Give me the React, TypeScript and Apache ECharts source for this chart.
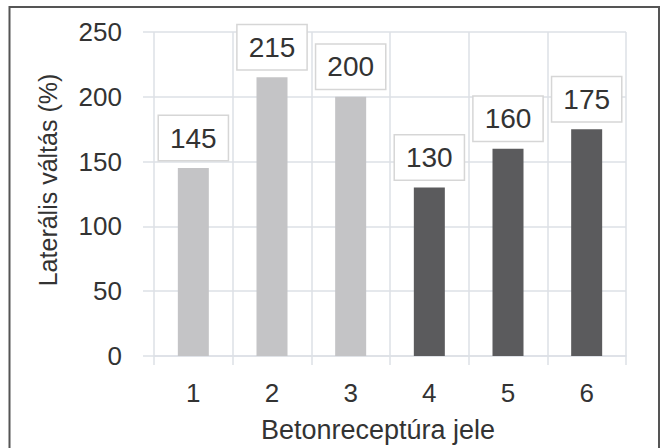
import React, { useEffect, useRef } from "react";
import * as echarts from "echarts";

const categories = ["1", "2", "3", "4", "5", "6"];
const values = [145, 215, 200, 130, 160, 175];
const groups = ["light", "light", "light", "dark", "dark", "dark"];
const yTicks = [0, 50, 100, 150, 200, 250];

const xName = "Betonreceptúra jele";
const yName = "Laterális váltás (%)";

export default function App() {
  const ref = useRef<HTMLDivElement>(null);
  useEffect(() => {
    if (!ref.current) return;
    const chart = echarts.init(ref.current, undefined, { renderer: "svg" });
    const gridColor = "#dde0e6";
    const textColor = "#333333";
    const font = "'Liberation Sans', Arial, sans-serif";
    chart.setOption({
      animation: false,
      backgroundColor: "#ffffff",
      textStyle: { fontFamily: font },
      grid: { left: 154, right: 40, top: 32, bottom: 92, containLabel: false, outerBoundsMode: "none" },
      graphic: [
        {
          type: "rect",
          shape: { x: 9.5, y: 7, width: 649.5, height: 450 },
          style: { fill: "none", stroke: "#555555", lineWidth: 2 },
          silent: true,
          z: 10,
        },
        {
          type: "text",
          x: 48,
          y: 180,
          rotation: Math.PI / 2,
          silent: true,
          style: {
            text: yName,
            fontSize: 25,
            fontFamily: font,
            fill: textColor,
            align: "center",
            verticalAlign: "middle",
          },
        },
      ],
      xAxis: {
        type: "category",
        data: categories,
        name: xName,
        nameLocation: "middle",
        nameGap: 60,
        nameMoveOverlap: false,
        nameTextStyle: { fontSize: 27, color: textColor, fontFamily: font, padding: [0, 24, 0, 0] },
        axisLine: { show: true, lineStyle: { color: gridColor, width: 1.5 } },
        axisTick: { show: true, length: 9, lineStyle: { color: gridColor, width: 1.5 } },
        axisLabel: { fontSize: 26, color: textColor, margin: 24, fontFamily: font },
        splitLine: { show: true, lineStyle: { color: gridColor, width: 1.5 } },
      },
      yAxis: {
        type: "value",
        min: 0,
        max: yTicks[yTicks.length - 1],
        interval: 50,
        axisLine: { show: false },
        axisTick: { show: true, length: 11, lineStyle: { color: gridColor, width: 1.5 } },
        axisLabel: { fontSize: 26, color: textColor, margin: 32, fontFamily: font },
        splitLine: { show: true, lineStyle: { color: gridColor, width: 1.5 } },
      },
      series: [
        {
          type: "bar",
          barWidth: 31,
          data: values.map((v, i) => ({
            value: v,
            itemStyle: { color: groups[i] === "light" ? "#c4c4c6" : "#5b5b5d" },
          })),
          label: {
            show: true,
            position: "top",
            distance: 8,
            fontSize: 28,
            lineHeight: 28,
            color: textColor,
            fontFamily: font,
            backgroundColor: "#ffffff",
            borderColor: "#d6d6d6",
            borderWidth: 1.5,
            padding: [8, 11, 8, 11],
          },
        },
      ],
    });
    return () => chart.dispose();
  }, []);
  return (
    <div
      ref={ref}
      style={{ position: "fixed", left: 0, top: 0, width: 666, height: 448 }}
    />
  );
}
